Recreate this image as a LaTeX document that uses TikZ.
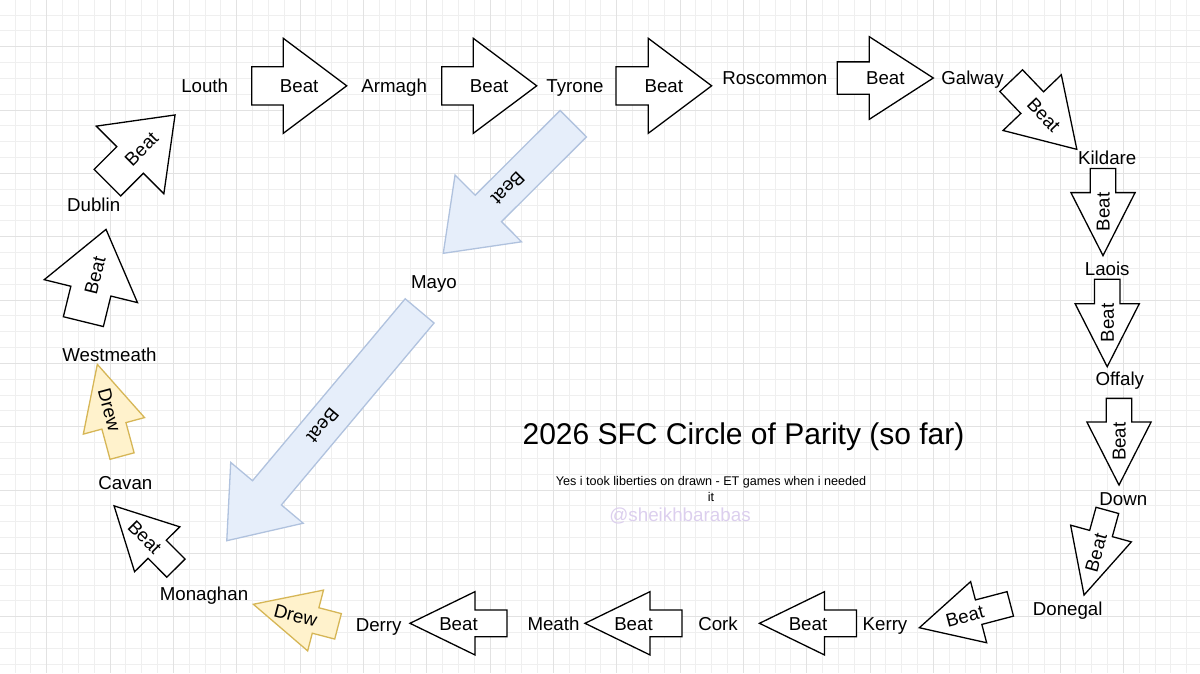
\documentclass[tikz,border=0pt]{standalone}
\usepackage{fontspec}
\setmainfont{Liberation Sans}
\definecolor{gridminor}{HTML}{EFEFEF}
\definecolor{gridmajor}{HTML}{E2E2E2}
\definecolor{drewfill}{HTML}{FFF2CC}
\definecolor{drewdraw}{HTML}{D6B656}
\definecolor{bluefill}{HTML}{E6EEFA}
\definecolor{bluedraw}{HTML}{B0C2DE}
\definecolor{wmark}{HTML}{DCCFEE}
\newcommand\barrow[9]{%
  \begin{scope}[shift={(#2,-#3)},rotate=#4]
    \draw[#9] ({-(#5)/2},{-(#7)/2}) -- ({(#5)/2-(#8)},{-(#7)/2}) -- ({(#5)/2-(#8)},{-(#6)/2}) -- ({(#5)/2},0) -- ({(#5)/2-(#8)},{(#6)/2}) -- ({(#5)/2-(#8)},{(#7)/2}) -- ({-(#5)/2},{(#7)/2}) -- cycle;
  \end{scope}
  \coordinate (#1) at (#2,-#3);}
\tikzset{
  beatarrow/.style={draw=black,fill=white,line width=1.3,line join=miter},
  drewarrow/.style={draw=drewdraw,fill=drewfill,line width=1.3,line join=miter},
  bluearrow/.style={draw=bluedraw,fill=bluefill,line width=1.3,line join=miter},
  team/.style={font=\fontsize{18.7}{22}\selectfont,inner sep=0pt,text height=13.4pt,text depth=0pt},
  lbl/.style={font=\fontsize{18.7}{22}\selectfont,inner sep=0pt,text height=13.4pt,text depth=0pt},
}
\begin{document}
\begin{tikzpicture}[x=1pt,y=1pt]
\useasboundingbox (0,0) rectangle (1200,-673);
\fill[white] (0,0) rectangle (1200,-673);
% grid
\foreach \i in {0,...,76} {\draw[gridminor,line width=0.8] ({-0.8+15.833*\i},0) -- ({-0.8+15.833*\i},-673);}
\foreach \i in {0,...,43} {\draw[gridminor,line width=0.8] (0,{-(-0.8+15.833*\i)}) -- (1200,{-(-0.8+15.833*\i)});}
\foreach \i in {0,...,18} {\draw[gridmajor,line width=0.9] ({-16.6+63.333*\i},0) -- ({-16.6+63.333*\i},-673);}
\foreach \i in {0,...,10} {\draw[gridmajor,line width=0.9] (0,{-(-16.6+63.333*\i)}) -- (1200,{-(-16.6+63.333*\i)});}

% teams
\node[team] (louth) at (204.7,-86) {Louth};
\node[team] (armagh) at (394.2,-86) {Armagh};
\node[team] (tyrone) at (575,-86) {Tyrone};
\node[team] (roscommon) at (774.8,-78) {Roscommon};
\node[team] (galway) at (972.5,-78) {Galway};
\node[team] (kildare) at (1107.2,-157.3) {Kildare};
\node[team] (laois) at (1107.2,-268.3) {Laois};
\node[team] (offaly) at (1119.8,-379) {Offaly};
\node[team] (down) at (1123.3,-498.3) {Down};
\node[team] (donegal) at (1067.7,-608.3) {Donegal};
\node[team] (kerry) at (885,-624) {Kerry};
\node[team] (cork) at (718,-624) {Cork};
\node[team] (meath) at (553.5,-624) {Meath};
\node[team] (derry) at (378.7,-624.3) {Derry};
\node[team] (monaghan) at (204,-593.3) {Monaghan};
\node[team] (cavan) at (125.3,-482.7) {Cavan};
\node[team] (westmeath) at (109.5,-355) {Westmeath};
\node[team] (dublin) at (93.7,-204.3) {Dublin};
\node[team] (mayo) at (434,-281.7) {Mayo};

% arrows: name, cx, cy, angle, length, head width, body width, head length, style
\barrow{a1}{299.2}{85.8}{0}{95}{95}{38.3}{63.4}{beatarrow}
\barrow{a2}{489.2}{85.8}{0}{95}{95}{38.3}{63.4}{beatarrow}
\barrow{a3}{663.8}{85.8}{0}{95.7}{95}{38.3}{63.4}{beatarrow}
\barrow{a4}{885.3}{78}{0}{96}{82.6}{32.3}{64}{beatarrow}
\barrow{a5}{1044}{115}{-46.3}{95}{80.6}{31.4}{64.6}{beatarrow}
\barrow{a6}{1103}{212}{-90}{87.2}{64.2}{25.6}{63}{beatarrow}
\barrow{a7}{1107.2}{323}{-90}{87.4}{64.2}{25.6}{63}{beatarrow}
\barrow{a8}{1119}{441.7}{-90}{86.7}{64.2}{25.6}{63}{beatarrow}
\barrow{a9}{1095.7}{552.7}{-105.4}{87.8}{63}{23.5}{63.8}{beatarrow}
\barrow{a10}{964.8}{615.8}{-165.3}{94}{63.2}{25.3}{61.3}{beatarrow}
\barrow{a11}{808}{623.3}{180}{97}{63.3}{26.7}{65}{beatarrow}
\barrow{a12}{633.5}{623.3}{180}{97}{63.3}{26.7}{65}{beatarrow}
\barrow{a13}{458.5}{623.3}{180}{97}{63.3}{26.7}{65}{beatarrow}
\barrow{a14}{295.7}{615.3}{165.4}{87.5}{62.8}{26.3}{64.3}{drewarrow}
\barrow{a15}{145}{537}{134.8}{87.8}{63.7}{25.7}{61.2}{beatarrow}
\barrow{a16}{109.7}{410.2}{105.1}{95}{63.4}{24.9}{63.7}{drewarrow}
\barrow{a17}{94.7}{275.5}{76.2}{95}{96}{41.2}{63.6}{beatarrow}
\barrow{a18}{141.2}{148.8}{45}{95.7}{95.6}{37.6}{63.6}{beatarrow}
\barrow{a19}{508.3}{188.5}{-135.1}{183.6}{94.3}{37.3}{63.6}{bluearrow}
\barrow{a20}{323.2}{425.8}{-130}{300}{94.6}{37.7}{62.5}{bluearrow}

% arrow labels
\node[lbl] (t1) at (a1) {Beat};
\node[lbl] (t2) at (a2) {Beat};
\node[lbl] (t3) at (a3) {Beat};
\node[lbl] (t4) at (a4) {Beat};
\node[lbl,rotate=-46.3] (t5) at (a5) {Beat};
\node[lbl,rotate=90] (t6) at (a6) {Beat};
\node[lbl,rotate=90] (t7) at (a7) {Beat};
\node[lbl,rotate=90] (t8) at (a8) {Beat};
\node[lbl,rotate=74.6] (t9) at (a9) {Beat};
\node[lbl,rotate=14.7] (t10) at (a10) {Beat};
\node[lbl] (t11) at (a11) {Beat};
\node[lbl] (t12) at (a12) {Beat};
\node[lbl] (t13) at (a13) {Beat};
\node[lbl,rotate=-14.6] (t14) at (a14) {Drew};
\node[lbl,rotate=-45.2] (t15) at (a15) {Beat};
\node[lbl,rotate=-74.9] (t16) at (a16) {Drew};
\node[lbl,rotate=76.2] (t17) at (a17) {Beat};
\node[lbl,rotate=45] (t18) at (a18) {Beat};
\node[lbl,rotate=-135.1] (t19) at (a19) {Beat};
\node[lbl,rotate=-130] (t20) at (a20) {Beat};

% title and notes
\node[font=\fontsize{30}{36}\selectfont,inner sep=0pt,text height=21.5pt,text depth=0pt] (title) at (743.5,-433.5) {2026 SFC Circle of Parity (so far)};
\node[font=\fontsize{12.6}{15.5}\selectfont,inner sep=0pt,align=center,anchor=north] (note) at (711,-476.5) {Yes i took liberties on drawn - ET games when i needed\\it};
\node[font=\fontsize{18.8}{22}\selectfont,inner sep=0pt,text height=13.5pt,text depth=0pt,text=wmark] (wm) at (680,-515) {@sheikhbarabas};
\end{tikzpicture}
\end{document}
